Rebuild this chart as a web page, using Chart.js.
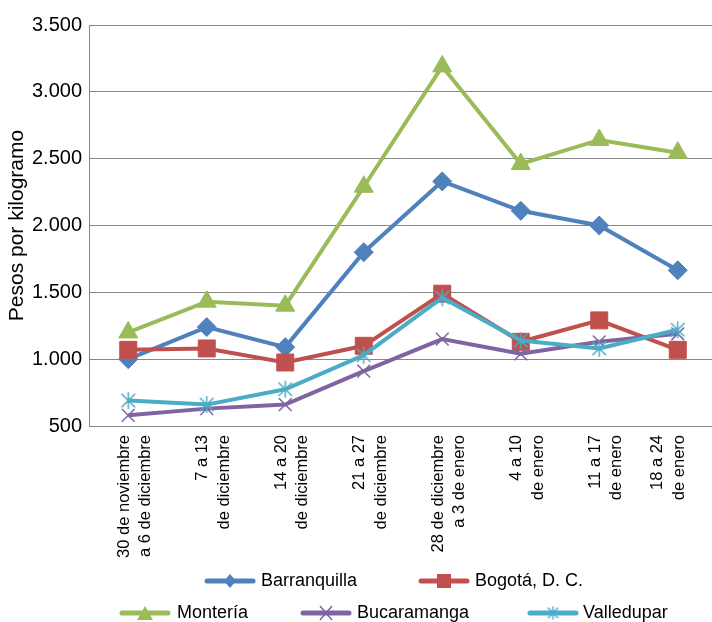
<!DOCTYPE html>
<html><head><meta charset="utf-8">
<script src="https://cdn.jsdelivr.net/npm/chart.js@4.4.1/dist/chart.umd.min.js"></script>
<style>
html,body{margin:0;padding:0;overflow:hidden;background:#fff;width:712px;height:622px}
#wrap{width:720px;height:622px;position:relative}
</style>
</head><body><div id="wrap"><canvas id="c" width="720" height="622"></canvas></div>
<script>
const categories = [
  ["30 de noviembre","a 6 de diciembre"],
  ["7 a 13","de diciembre"],
  ["14 a 20","de diciembre"],
  ["21 a 27","de diciembre"],
  ["28 de diciembre","a 3 de enero"],
  ["4 a 10","de enero"],
  ["11 a 17","de enero"],
  ["18 a 24","de enero"]
];
const barranquilla = [1000, 1240, 1090, 1800, 2330, 2110, 2000, 1665];
const bogota       = [1070, 1080,  975, 1100, 1490, 1130, 1290, 1070];
const monteria     = [1200, 1430, 1400, 2290, 3190, 2460, 2640, 2545];
const bucaramanga  = [ 580,  630,  660,  910, 1150, 1040, 1130, 1190];
const valledupar   = [ 690,  660,  775, 1030, 1460, 1140, 1080, 1220];
const yTicks = [500, 1000, 1500, 2000, 2500, 3000, 3500];
const yTitle = "Pesos por kilogramo";

const FONT = "'Liberation Sans', Arial, sans-serif";
const C = {blue:'#4F81BD', red:'#C0504D', green:'#9BBB59', purple:'#8064A2', aqua:'#4BACC6'};

function makeStar(color, size, lw){
  const cv = document.createElement('canvas');
  cv.width = size; cv.height = size;
  const g = cv.getContext('2d');
  const c = size/2, r = size/2 - 1;
  g.strokeStyle = color; g.lineWidth = lw;
  g.beginPath();
  g.moveTo(c, c - r); g.lineTo(c, c + r);
  const a = r*0.8;
  g.moveTo(c - a, c - a); g.lineTo(c + a, c + a);
  g.moveTo(c + a, c - a); g.lineTo(c - a, c + a);
  g.stroke();
  return cv;
}
const starBig = makeStar(C.aqua, 19, 1.5);
const starSmall = makeStar(C.aqua, 15, 1.5);

function fmt(v){
  if (v >= 1000) return Math.floor(v/1000) + '.' + String(v % 1000).padStart(3,'0');
  return String(v);
}

const series = [
  {label:'Barranquilla', data:barranquilla, color:C.blue,   style:'rectRot',  radius:9.5, bw:1},
  {label:'Bogotá, D. C.', data:bogota,      color:C.red,    style:'rect',     radius:12,  bw:1},
  {label:'Montería',     data:monteria,     color:C.green,  style:'triangle', radius:11,  bw:1},
  {label:'Bucaramanga',  data:bucaramanga,  color:C.purple, style:'crossRot', radius:9,   bw:1.5},
  {label:'Valledupar',   data:valledupar,   color:C.aqua,   style:starBig,    radius:9,   bw:1.5}
];

// Keeps the last category label inside the picture, as in the original.
const lastLabelClamp = {
  id:'lastLabelClamp',
  afterUpdate(chart){
    const sc = chart.scales.x;
    if (!sc || sc.__clamped) return;
    const orig = sc._computeLabelItems.bind(sc);
    sc._computeLabelItems = function(ca){
      const items = orig(ca);
      const last = items[items.length - 1];
      if (last && last.options && last.options.translation) last.options.translation[0] -= 16;
      return items;
    };
    sc._labelItems = null;
    sc.__clamped = true;
  }
};

const legendPlugin = {
  id:'customLegend',
  afterDraw(chart){
    const ctx = chart.ctx;
    const items = [
      {i:0, x:207, y:581, tx:261},
      {i:1, x:421, y:581, tx:475},
      {i:2, x:122, y:613, tx:177},
      {i:3, x:303, y:613, tx:357},
      {i:4, x:530, y:613, tx:583}
    ];
    ctx.save();
    items.forEach(it => {
      const s = series[it.i];
      const w = 46;
      ctx.strokeStyle = s.color; ctx.lineWidth = 5; ctx.lineCap = 'round';
      ctx.beginPath(); ctx.moveTo(it.x, it.y); ctx.lineTo(it.x + w, it.y); ctx.stroke();
      const cx = it.x + w/2, cy = it.y;
      ctx.fillStyle = s.color; ctx.lineCap = 'butt';
      if (s.style === 'rectRot'){
        ctx.beginPath(); ctx.moveTo(cx, cy-7); ctx.lineTo(cx+6, cy); ctx.lineTo(cx, cy+7); ctx.lineTo(cx-6, cy); ctx.closePath(); ctx.fill();
      } else if (s.style === 'rect'){
        ctx.fillRect(cx-7, cy-7, 14, 14);
      } else if (s.style === 'triangle'){
        ctx.beginPath(); ctx.moveTo(cx, cy-7); ctx.lineTo(cx+8, cy+7); ctx.lineTo(cx-8, cy+7); ctx.closePath(); ctx.fill();
      } else if (s.style === 'crossRot'){
        ctx.lineWidth = 1.5; ctx.beginPath();
        ctx.moveTo(cx-6, cy-7); ctx.lineTo(cx+6, cy+7); ctx.moveTo(cx+6, cy-7); ctx.lineTo(cx-6, cy+7); ctx.stroke();
      } else {
        ctx.drawImage(starSmall, cx - 7.5, cy - 7.5);
      }
      ctx.fillStyle = '#000';
      ctx.font = '18px ' + FONT;
      ctx.textAlign = 'left'; ctx.textBaseline = 'middle';
      ctx.fillText(s.label, it.tx, it.y);
    });
    ctx.restore();
  }
};

new Chart(document.getElementById('c'), {
  type:'line',
  data:{
    labels: categories,
    datasets: series.map((s, idx) => ({
      label: s.label,
      data: s.data,
      borderColor: s.color,
      backgroundColor: s.color,
      pointBackgroundColor: s.color,
      pointBorderColor: s.color,
      borderWidth: 4,
      pointStyle: s.style,
      pointRadius: s.radius,
      pointBorderWidth: s.bw,
      tension: 0,
      fill: false,
      order: 4 - idx
    }))
  },
  options:{
    responsive:false,
    animation:false,
    devicePixelRatio:1,
    layout:{autoPadding:false, padding:{top:25, right:3, bottom:0, left:0}},
    plugins:{legend:{display:false}, tooltip:{enabled:false}},
    scales:{
      x:{
        offset:true,
        grid:{display:false, drawTicks:false},
        border:{display:true, color:'#878787', width:1},
        ticks:{autoSkip:false, maxRotation:90, minRotation:90, padding:9, labelOffset:-4, color:'#000',
          font:{family:FONT, size:16.5, lineHeight:1.3}},
        afterFit(scale){ scale.height = 196; scale.paddingLeft = 0; scale.paddingRight = 0; }
      },
      y:{
        min:500, max:3500,
        afterBuildTicks(scale){ scale.ticks = yTicks.map(v => ({value:v})); },
        grid:{color:'#878787', lineWidth:1, drawTicks:false},
        border:{display:true, color:'#878787', width:1},
        ticks:{padding:7, color:'#000', font:{family:FONT, size:20}, callback:(v)=>fmt(v)},
        title:{display:true, text:yTitle, color:'#000', font:{family:FONT, size:21}, padding:{top:5, bottom:0}},
        afterFit(scale){ scale.width = 89; }
      }
    }
  },
  plugins:[lastLabelClamp, legendPlugin]
});
</script>
</body></html>
